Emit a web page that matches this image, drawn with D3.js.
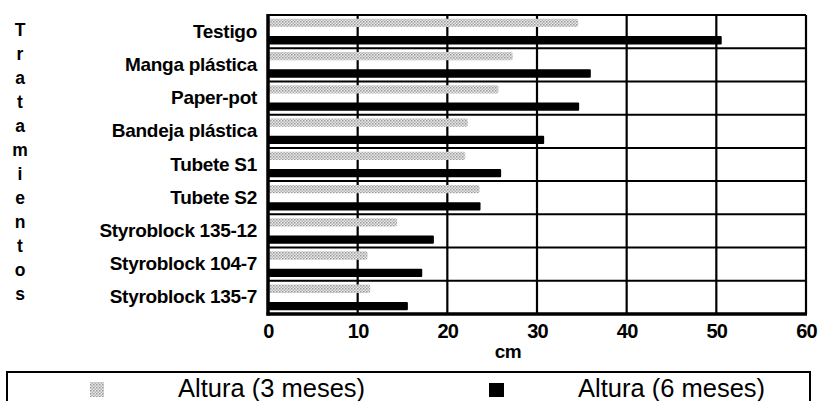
<!DOCTYPE html>
<html><head><meta charset="utf-8">
<script src="https://cdn.jsdelivr.net/npm/d3@7"></script>
<style>body{margin:0;background:#fff}svg{display:block;font-family:"Liberation Sans",Arial,sans-serif}</style>
</head><body>
<svg id="c" width="818" height="401"></svg>
<script>
const categories = ["Testigo","Manga plástica","Paper-pot","Bandeja plástica","Tubete S1","Tubete S2","Styroblock 135-12","Styroblock 104-7","Styroblock 135-7"];
const altura3 = [34.6, 27.3, 25.7, 22.3, 22.0, 23.6, 14.4, 11.1, 11.4];
const altura6 = [50.6, 36.0, 34.7, 30.8, 26.0, 23.7, 18.5, 17.2, 15.6];
const seriesNames = ["Altura (3 meses)","Altura (6 meses)"];
const xTicks = [0,10,20,30,40,50,60];
const yTitle = "Tratamientos";
const xTitle = "cm";

const svg = d3.select("#c");
const defs = svg.append("defs");
const pat = defs.append("pattern").attr("id","dots").attr("patternUnits","userSpaceOnUse").attr("width",3).attr("height",3);
pat.append("rect").attr("width",3).attr("height",3).attr("fill","#e8e8e8");
pat.append("rect").attr("x",0).attr("y",0).attr("width",1.5).attr("height",1.5).attr("fill","#9a9a9a");
pat.append("rect").attr("x",1.5).attr("y",1.5).attr("width",1.5).attr("height",1.5).attr("fill","#b4b4b4");

const L=268, R=806, T=15, B=314;
const x = d3.scaleLinear().domain([0,60]).range([L,R]);
const y0 = d3.scaleBand().domain(categories).range([T,B]).padding(0);
const y1 = d3.scaleBand().domain([0,1]).range([0,y0.bandwidth()]).paddingInner(0.52).paddingOuter(0.22);

svg.append("rect").attr("x",L).attr("y",T).attr("width",R-L).attr("height",B-T).attr("fill","#fff");

svg.append("g").selectAll("line").data(xTicks.slice(1)).join("line")
  .attr("x1",d=>x(d)).attr("x2",d=>x(d)).attr("y1",T).attr("y2",B)
  .attr("stroke","#000").attr("stroke-width",2.2);
svg.append("g").selectAll("line").data(categories.slice(1)).join("line")
  .attr("x1",L).attr("x2",R).attr("y1",d=>y0(d)).attr("y2",d=>y0(d))
  .attr("stroke","#000").attr("stroke-width",2);
svg.append("line").attr("x1",L).attr("x2",R).attr("y1",T).attr("y2",T).attr("stroke","#000").attr("stroke-width",2);

const vals = [altura3, altura6];
vals.forEach((arr,si)=>{
  svg.append("g").selectAll("rect").data(categories).join("rect")
    .attr("x",x(0)).attr("y",(d)=>y0(d)+y1(si))
    .attr("width",(d,i)=>x(arr[i])-x(0)).attr("height",y1.bandwidth())
    .attr("fill", si===0 ? "url(#dots)" : "#000")
    .attr("rx", si===0 ? 2 : 1);
});

svg.append("line").attr("x1",L).attr("x2",L).attr("y1",T-1).attr("y2",B+1.5).attr("stroke","#000").attr("stroke-width",3.5);
svg.append("line").attr("x1",L-1.5).attr("x2",R+1).attr("y1",B).attr("y2",B).attr("stroke","#000").attr("stroke-width",3.5);

const xAxis = d3.axisBottom(x).tickValues(xTicks).tickSize(0).tickPadding(0).tickFormat(d3.format("d"));
const gx = svg.append("g").attr("transform",`translate(0,${B+10})`).call(xAxis);
gx.select(".domain").remove();
gx.selectAll("text").attr("font-size",20).attr("font-weight","bold").attr("fill","#000")
  .attr("font-family","'Liberation Sans',Arial,sans-serif").attr("letter-spacing","-0.8px");
svg.append("text").attr("x",508).attr("y",358).attr("text-anchor","middle")
  .attr("font-size",19).attr("font-weight","bold").attr("letter-spacing","-0.5px").text(xTitle);

const yAxis = d3.axisLeft(y0).tickSize(0).tickPadding(11);
const gy = svg.append("g").attr("transform",`translate(${L},0)`).call(yAxis);
gy.select(".domain").remove();
gy.selectAll("text").attr("font-size",19).attr("font-weight","bold").attr("fill","#000")
  .attr("font-family","'Liberation Sans',Arial,sans-serif").attr("letter-spacing","-0.3px");

const letters = yTitle.split("");
const ly = d3.scalePoint().domain(d3.range(letters.length)).range([30,294]);
svg.append("g").selectAll("text").data(letters).join("text")
  .attr("x",20).attr("y",(d,i)=>ly(i)).attr("dy","0.35em").attr("text-anchor","middle")
  .attr("font-size",17.5).attr("font-weight","bold").text(d=>d);

svg.append("rect").attr("x",7).attr("y",372).attr("width",803).attr("height",40)
  .attr("fill","#fff").attr("stroke","#000").attr("stroke-width",2);
svg.append("rect").attr("x",90).attr("y",382).attr("width",14).attr("height",15).attr("fill","url(#dots)");
svg.append("text").attr("x",178).attr("y",397).attr("font-size",25.5).text(seriesNames[0]);
svg.append("rect").attr("x",489).attr("y",383).attr("width",15).attr("height",14).attr("fill","#000");
svg.append("text").attr("x",578).attr("y",397).attr("font-size",25.5).text(seriesNames[1]);
</script>
</body></html>
